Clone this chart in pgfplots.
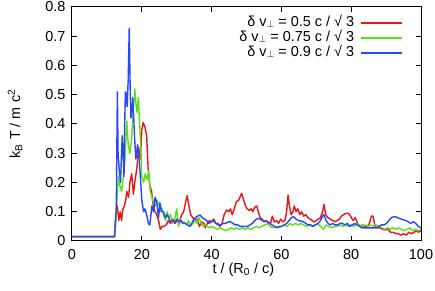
\documentclass[border=0pt]{standalone}
\usepackage{fontspec}
\setmainfont{Liberation Sans}
\usepackage{pgfplots}
\usepackage{pgfplotstable}
\pgfplotsset{compat=1.18}
\definecolor{gred}{RGB}{238,20,20}
\definecolor{ggreen}{RGB}{90,225,20}
\definecolor{gblue}{RGB}{40,70,255}
\newcommand{\perpsub}{\raisebox{-1.8bp}{\fontsize{10}{10}\selectfont$\perp$}}

\pgfplotstableread{
t T
0 0.015
12.2 0.015
12.6 0.09
13.0 0.12
13.4 0.07
13.8 0.10
14.2 0.07
14.6 0.11
15.0 0.12
15.4 0.14
15.7 0.17
16.2 0.15
16.6 0.20
17.1 0.23
17.6 0.16
18.1 0.21
18.6 0.25
19.1 0.32
19.6 0.28
20.0 0.38
20.4 0.405
20.9 0.39
21.4 0.36
21.8 0.25
22.3 0.19
22.8 0.17
23.3 0.12
23.8 0.10
24.3 0.09
24.8 0.07
25.3 0.04
25.8 0.05
26.3 0.05
27.0 0.055
27.6 0.07
28.2 0.06
28.9 0.075
29.5 0.06
30.2 0.07
30.8 0.065
31.4 0.09
32.0 0.10
32.5 0.13
33.0 0.155
33.5 0.12
34.0 0.09
34.6 0.08
35.3 0.07
35.9 0.075
36.5 0.05
37.2 0.065
37.8 0.06
38.2 0.045
38.8 0.06
39.4 0.07
40.0 0.065
40.6 0.075
41.2 0.06
41.8 0.06
42.4 0.05
43.0 0.06
43.6 0.09
44.3 0.106
44.9 0.10
45.4 0.11
45.9 0.09
46.5 0.11
47.1 0.135
47.8 0.14
48.3 0.155
48.6 0.163
49.2 0.14
49.7 0.12
50.2 0.11
50.8 0.105
51.3 0.11
51.8 0.10
52.3 0.115
52.9 0.12
53.4 0.10
53.9 0.08
54.5 0.075
55.0 0.065
55.6 0.07
56.2 0.065
56.9 0.06
57.4 0.085
58.0 0.065
58.6 0.07
59.2 0.06
59.8 0.075
60.4 0.065
61.0 0.07
61.5 0.10
61.9 0.157
62.3 0.12
62.8 0.09
63.3 0.10
63.7 0.12
64.2 0.10
64.7 0.11
65.3 0.09
65.8 0.10
66.4 0.085
67.0 0.09
67.6 0.08
68.2 0.075
68.8 0.07
69.4 0.065
70.0 0.07
70.6 0.075
71.2 0.08
71.8 0.10
72.2 0.125
72.7 0.09
73.3 0.08
74.0 0.075
74.7 0.07
75.4 0.066
76.0 0.07
76.6 0.075
77.2 0.085
77.8 0.09
78.5 0.095
79.2 0.095
79.8 0.085
80.5 0.07
81.2 0.08
81.8 0.06
82.5 0.05
83.2 0.055
83.9 0.05
84.6 0.05
85.2 0.06
85.8 0.085
86.3 0.085
86.8 0.05
87.5 0.045
88.2 0.045
89.0 0.04
89.7 0.038
90.5 0.04
91.3 0.03
92.0 0.03
92.8 0.025
93.5 0.025
94.2 0.02
95.0 0.025
95.8 0.02
96.5 0.03
97.2 0.025
98.0 0.03
98.7 0.035
99.3 0.03
100 0.035
}\redtable

\pgfplotstableread{
t T
0 0.015
12.2 0.015
12.5 0.05
12.8 0.13
13.3 0.22
13.7 0.19
14.2 0.17
14.7 0.22
15.2 0.28
15.5 0.36
15.7 0.41
16.1 0.33
16.6 0.30
17.1 0.35
17.5 0.44
18.0 0.52
18.3 0.47
18.6 0.44
19.0 0.49
19.3 0.42
19.6 0.35
20.0 0.22
20.5 0.20
21.0 0.23
21.5 0.21
22.0 0.24
22.4 0.17
22.9 0.15
23.4 0.13
23.9 0.12
24.4 0.14
24.8 0.13
25.3 0.10
25.8 0.11
26.2 0.09
26.8 0.07
27.3 0.10
27.7 0.08
28.2 0.09
28.8 0.06
29.4 0.07
30.0 0.11
30.5 0.05
31.0 0.07
31.6 0.06
32.2 0.065
32.8 0.055
33.4 0.07
34.0 0.05
34.6 0.06
35.2 0.07
35.8 0.06
36.4 0.08
37.0 0.06
37.6 0.05
38.2 0.055
38.8 0.05
39.4 0.045
40.0 0.05
40.8 0.045
41.6 0.04
42.4 0.045
43.2 0.04
44.0 0.035
44.8 0.04
45.6 0.045
46.4 0.04
47.2 0.045
48.0 0.04
48.8 0.045
49.6 0.04
50.4 0.045
51.2 0.04
52.0 0.045
52.8 0.05
53.6 0.045
54.4 0.05
55.2 0.055
56.0 0.06
56.8 0.05
57.6 0.045
58.4 0.05
59.2 0.045
60.0 0.05
60.8 0.055
61.6 0.05
62.4 0.06
63.2 0.055
64.0 0.06
64.8 0.055
65.6 0.06
66.4 0.055
67.2 0.05
68.0 0.055
68.8 0.05
69.6 0.055
70.4 0.06
71.2 0.05
72.0 0.04
72.8 0.055
73.6 0.05
74.4 0.045
75.2 0.05
76.0 0.05
76.8 0.055
77.6 0.05
78.4 0.055
79.2 0.05
80.0 0.055
80.8 0.05
81.6 0.06
82.4 0.055
83.2 0.05
84.0 0.055
84.8 0.05
85.6 0.055
86.4 0.05
87.2 0.055
88.0 0.05
88.8 0.045
89.6 0.04
90.4 0.045
91.2 0.04
92.0 0.045
92.8 0.04
93.6 0.045
94.4 0.04
95.2 0.035
96.0 0.04
96.8 0.045
97.6 0.035
98.4 0.04
99.2 0.035
100 0.04
}\greentable

\pgfplotstableread{
t T
0 0.015
12.2 0.015
12.4 0.06
12.7 0.12
13.0 0.51
13.2 0.3
13.5 0.25
13.9 0.20
14.2 0.30
14.4 0.36
14.7 0.28
14.9 0.22
15.1 0.40
15.3 0.51
15.6 0.50
15.8 0.46
16.1 0.55
16.4 0.727
16.7 0.50
16.9 0.42
17.2 0.45
17.4 0.49
17.7 0.42
17.9 0.36
18.3 0.28
18.8 0.33
19.3 0.27
19.7 0.20
20.0 0.14
20.5 0.10
20.9 0.11
21.4 0.09
21.9 0.06
22.3 0.055
22.9 0.12
23.4 0.10
23.8 0.15
24.3 0.13
24.8 0.08
25.2 0.13
25.7 0.10
26.2 0.10
26.7 0.08
27.2 0.09
27.7 0.08
28.3 0.065
28.9 0.07
29.5 0.065
30.1 0.075
30.7 0.065
31.3 0.07
31.9 0.06
32.5 0.06
33.1 0.055
33.7 0.05
34.3 0.06
34.9 0.075
35.4 0.08
36.0 0.085
36.7 0.089
37.3 0.08
38.0 0.075
38.6 0.07
39.2 0.06
39.8 0.065
40.5 0.07
41.2 0.06
41.9 0.055
42.6 0.055
43.3 0.06
44.0 0.06
44.7 0.065
45.4 0.066
46.1 0.06
46.8 0.055
47.5 0.055
48.2 0.05
48.9 0.05
49.6 0.05
50.3 0.05
51.0 0.055
51.7 0.06
52.4 0.07
53.1 0.077
53.8 0.075
54.5 0.07
55.2 0.068
55.9 0.066
56.6 0.06
57.3 0.055
58.0 0.05
58.7 0.045
59.4 0.05
60.1 0.05
60.8 0.055
61.5 0.06
62.2 0.07
62.9 0.08
63.5 0.083
64.2 0.075
64.9 0.07
65.6 0.068
66.3 0.066
67.0 0.06
67.7 0.055
68.4 0.055
69.1 0.05
69.8 0.055
70.5 0.06
71.2 0.07
71.8 0.085
72.2 0.09
72.8 0.07
73.4 0.06
74.0 0.055
74.7 0.06
75.4 0.055
76.1 0.055
76.8 0.06
77.5 0.06
78.2 0.055
78.9 0.06
79.6 0.05
80.3 0.055
81.0 0.06
81.7 0.055
82.4 0.05
83.1 0.045
83.8 0.045
84.5 0.045
85.2 0.045
85.9 0.045
86.6 0.045
87.3 0.045
88.0 0.05
88.7 0.055
89.4 0.055
90.1 0.06
90.8 0.07
91.5 0.08
92.2 0.083
92.9 0.082
93.6 0.078
94.3 0.075
95.0 0.072
95.7 0.07
96.4 0.065
97.1 0.06
97.8 0.066
98.5 0.06
99.2 0.05
100 0.045
}\bluetable

\begin{document}
\begin{tikzpicture}
\begin{axis}[
  scale only axis,
  width=349bp, height=234bp,
  xmin=0, xmax=100, ymin=0, ymax=0.8,
  xtick={0,20,40,60,80,100},
  ytick={0,0.1,0.2,0.3,0.4,0.5,0.6,0.7,0.8},
  yticklabel style={/pgf/number format/fixed},
  /pgf/number format/assume math mode=true,
  tick label style={font=\fontsize{14.5}{16}\selectfont},
  tick align=inside,
  major tick length=5bp,
  axis line style={line width=1bp},
  every tick/.style={line width=1bp, black},
  xticklabel style={yshift=-5bp},
  yticklabel style={xshift=-3bp},
  xlabel={t / (R\textsubscript{0} / c)},
  ylabel={k\textsubscript{B} T / m c\textsuperscript{2}},
  label style={font=\fontsize{14.5}{16}\selectfont},
  xlabel style={at={(axis description cs:0.491,-0.124)}, anchor=center},
  ylabel style={at={(axis description cs:-0.163,0.5)}, anchor=center},
  legend cell align=right,
  legend plot pos=right,
  legend image code/.code={\draw[#1, line width=2bp] (0bp,0bp) -- (41bp,0bp);},
  legend style={draw=none, fill=none, at={(axis description cs:0.948,0.966)}, anchor=north east,
    inner sep=0pt, row sep=0pt, column sep=5bp, font=\fontsize{14.5}{16}\selectfont,
    nodes={text height=10.5bp, text depth=3.5bp, inner sep=0.5bp}},
  every axis plot/.append style={line width=1.4bp, line join=round},
]
\addplot[gred] table[x=t, y=T] {\redtable};
\addlegendentry{δ v\perpsub{} = 0.5 c / √ 3}
\addplot[ggreen] table[x=t, y=T] {\greentable};
\addlegendentry{δ v\perpsub{} = 0.75 c / √ 3}
\addplot[gblue] table[x=t, y=T] {\bluetable};
\addlegendentry{δ v\perpsub{} = 0.9 c / √ 3}
\end{axis}
\pgfresetboundingbox
\path ([shift={(-72bp,-50bp)}]current axis.south west) rectangle ([shift={(14bp,7bp)}]current axis.north east);
\end{tikzpicture}
\end{document}
